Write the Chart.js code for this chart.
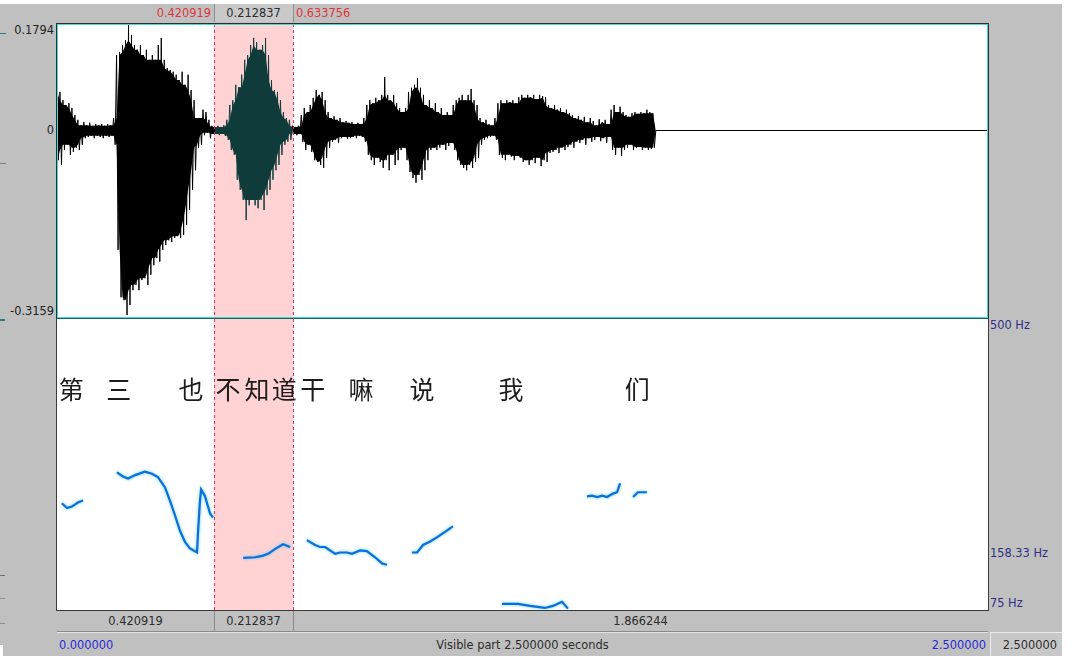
<!DOCTYPE html>
<html>
<head>
  <meta charset="utf-8">
  <title>Sound editor</title>
  <style>
    body { margin: 0; background: #fff; }
    #win { position: relative; width: 1076px; height: 656px; overflow: hidden;
           font-family: "DejaVu Sans", "Liberation Sans", sans-serif; font-size: 11.4px; }
    .blk { position: absolute; }
    .lbl { position: absolute; white-space: nowrap; line-height: 13px; }
    canvas { position: absolute; display: block; left: 0; top: 0; }
  </style>
</head>
<body>
<div id="win">
  <div class="blk" style="left:0;top:4px;width:1062px;height:652px;background:#c0c0c0"></div>
  <!-- left edge remnants of the neighbouring window -->
  <div class="blk" style="left:0;top:33px;width:6px;height:1px;background:#2c7d7d"></div>
  <div class="blk" style="left:0;top:163px;width:6px;height:1px;background:#808080"></div>
  <div class="blk" style="left:0;top:319px;width:5px;height:2px;background:#2c7d7d"></div>
  <div class="blk" style="left:0;top:575px;width:5px;height:1px;background:#707070"></div>
  <div class="blk" style="left:0;top:598px;width:5px;height:1px;background:#909090"></div>
  <div class="blk" style="left:0;top:623px;width:5px;height:1px;background:#909090"></div>
  <div class="blk" style="left:0;top:645px;width:3px;height:11px;background:#fff"></div>

  <div class="blk" id="wavePanel" style="left:56px;top:23px;width:931px;height:294px;border:1px solid #2e2e2e;border-bottom-color:#1f5f5f;background:#fff">
    <canvas id="wave" width="931" height="294"></canvas>
  </div>
  <div class="blk" id="pitchPanel" style="left:56px;top:319px;width:931px;height:291px;border:1px solid #3a3a3a;border-top:none;background:#fff">
    <canvas id="pitch" width="931" height="291"></canvas>
  </div>
</div>

<script src="https://cdn.jsdelivr.net/npm/chart.js"></script>
<script>
  // sound and selection (seconds)
  var duration = 2.5;
  var selStart = 0.420919;
  var selEnd = 0.633756;

  // waveform envelope, one max/min pair every waveStep seconds
  var waveStep = 0.008;
  var waveHi = [
    0.072,0.065,0.051,0.043,0.046,0.038,0.026,0.018,0.009,0.014,
    0.009,0.013,0.008,0.011,0.009,0.011,0.008,0.011,0.009,0.021,
    0.127,0.132,0.144,0.152,0.178,0.161,0.144,0.136,0.144,0.127,
    0.136,0.119,0.127,0.119,0.144,0.156,0.119,0.105,0.102,0.099,
    0.094,0.085,0.099,0.077,0.094,0.068,0.051,0.021,0.021,0.035,
    0.031,0.018,0.008,0.006,0.008,0.006,0.009,0.018,0.043,0.051,
    0.077,0.073,0.094,0.119,0.127,0.144,0.156,0.149,0.136,0.144,
    0.156,0.127,0.085,0.068,0.065,0.051,0.031,0.021,0.018,0.008,
    0.006,0.008,0.026,0.038,0.031,0.043,0.055,0.068,0.060,0.065,
    0.051,0.031,0.021,0.024,0.018,0.021,0.014,0.016,0.013,0.014,
    0.011,0.013,0.011,0.021,0.043,0.051,0.046,0.055,0.051,0.060,
    0.090,0.060,0.051,0.060,0.046,0.038,0.031,0.038,0.065,0.072,
    0.077,0.088,0.072,0.060,0.043,0.051,0.038,0.046,0.031,0.038,
    0.026,0.031,0.026,0.043,0.051,0.055,0.060,0.051,0.060,0.070,
    0.051,0.043,0.021,0.014,0.018,0.011,0.009,0.021,0.046,0.051,
    0.046,0.051,0.048,0.051,0.046,0.056,0.060,0.055,0.060,0.056,
    0.060,0.053,0.060,0.058,0.056,0.043,0.038,0.043,0.035,0.038,
    0.031,0.035,0.029,0.026,0.021,0.024,0.018,0.023,0.014,0.021,
    0.016,0.009,0.019,0.014,0.018,0.011,0.035,0.043,0.031,0.040,
    0.031,0.026,0.023,0.029,0.031,0.028,0.031,0.029,0.035,0.031,0.029
  ];
  var waveLo = [
    -0.050,-0.058,-0.033,-0.024,-0.041,-0.036,-0.029,-0.033,-0.024,-0.013,
    -0.011,-0.009,-0.013,-0.009,-0.011,-0.013,-0.009,-0.011,-0.009,-0.024,
    -0.201,-0.281,-0.286,-0.311,-0.294,-0.269,-0.260,-0.269,-0.252,-0.249,
    -0.260,-0.243,-0.227,-0.215,-0.221,-0.201,-0.193,-0.185,-0.188,-0.181,
    -0.178,-0.181,-0.176,-0.159,-0.134,-0.100,-0.067,-0.029,-0.024,-0.008,
    -0.004,-0.013,-0.006,-0.006,-0.008,-0.006,-0.009,-0.016,-0.033,-0.041,
    -0.083,-0.100,-0.117,-0.151,-0.126,-0.117,-0.126,-0.131,-0.117,-0.134,
    -0.109,-0.100,-0.083,-0.067,-0.058,-0.041,-0.024,-0.019,-0.016,-0.006,
    -0.008,-0.006,-0.019,-0.033,-0.024,-0.036,-0.050,-0.053,-0.058,-0.063,
    -0.046,-0.029,-0.019,-0.016,-0.021,-0.013,-0.011,-0.014,-0.013,-0.011,
    -0.013,-0.009,-0.011,-0.019,-0.041,-0.050,-0.058,-0.046,-0.053,-0.063,
    -0.050,-0.067,-0.041,-0.058,-0.050,-0.033,-0.029,-0.050,-0.070,-0.080,
    -0.088,-0.075,-0.083,-0.067,-0.050,-0.033,-0.029,-0.033,-0.029,-0.024,
    -0.033,-0.026,-0.021,-0.033,-0.050,-0.058,-0.063,-0.067,-0.058,-0.063,
    -0.053,-0.046,-0.024,-0.016,-0.013,-0.011,-0.009,-0.016,-0.041,-0.046,
    -0.050,-0.041,-0.044,-0.050,-0.043,-0.046,-0.053,-0.050,-0.058,-0.050,
    -0.055,-0.046,-0.060,-0.050,-0.053,-0.038,-0.036,-0.033,-0.038,-0.029,
    -0.033,-0.028,-0.024,-0.029,-0.019,-0.021,-0.016,-0.024,-0.013,-0.019,
    -0.016,-0.011,-0.018,-0.013,-0.021,-0.011,-0.033,-0.041,-0.029,-0.043,
    -0.033,-0.029,-0.024,-0.033,-0.029,-0.028,-0.033,-0.029,-0.033,-0.031,-0.029
  ];
  var ampMax = 0.1794;
  var ampMin = -0.3159;

  // pitch track, null marks an unvoiced gap
  var pitchTimes = [
    0.013,0.027,0.040,0.056,0.070, null,
    0.161,0.177,0.191,0.210,0.236,0.255,0.271,0.290,0.303,0.317,0.330,0.344,0.357,0.376,0.379,0.384,0.387,0.397,0.411,0.419, null,
    0.500,0.532,0.551,0.567,0.585,0.607,0.626, null,
    0.671,0.693,0.706,0.720,0.747,0.760,0.779,0.792,0.814,0.832,0.854,0.873,0.886, null,
    0.953,0.967,0.983,1.002,1.020,1.042,1.063, null,
    1.195,1.238,1.270,1.310,1.332,1.356,1.372, null,
    1.423,1.437,1.450,1.464,1.477,1.493,1.504,1.512, null,
    1.547,1.560,1.584
  ];
  var pitchHz = [
    231,224,226,232,235, null,
    276,270,267,272,277,274,269,254,235,213,191,174,165,159,191,235,251,242,216,210, null,
    151,152,154,157,164,171,167, null,
    177,170,167,167,157,159,159,157,162,161,152,143,141, null,
    159,159,170,175,181,189,197, null,
    84,84,81,78,81,87,77, null,
    241,242,240,242,240,245,247,260, null,
    240,247,247
  ];
  var pitchFloor = 75;
  var pitchCeiling = 500;
  var pitchCursor = 158.33;

  // characters typed over the pitch pane
  var wordText = ['第','三','也','不','知','道','干','嘛','说','我','们'];
  var wordTimes = [0.038,0.166,0.360,0.459,0.537,0.610,0.687,0.816,0.980,1.219,1.558];

  var win = document.getElementById('win');

  function label(text, x, y, ax, ay, color) {
    var d = document.createElement('div');
    d.className = 'lbl';
    d.textContent = text;
    d.style.left = x + 'px';
    d.style.top = y + 'px';
    d.style.color = color;
    d.style.transform = 'translate(' + (-ax * 100) + '%,' + (-ay * 100) + '%)';
    win.appendChild(d);
  }
  function box(x, y, w, h, css) {
    var d = document.createElement('div');
    d.className = 'blk';
    d.style.cssText += 'left:' + x + 'px;top:' + y + 'px;width:' + w + 'px;height:' + h + 'px;' + css;
    win.appendChild(d);
  }

  var selectionPlugin = {
    id: 'selection',
    beforeDatasetsDraw: function(chart) {
      var ctx = chart.ctx, a = chart.chartArea, x = chart.scales.x;
      var x0 = x.getPixelForValue(selStart), x1 = x.getPixelForValue(selEnd);
      ctx.save();
      ctx.fillStyle = '#ffd3d3';
      ctx.fillRect(x0, a.top, x1 - x0, a.bottom - a.top);
      ctx.restore();
    },
    afterDatasetsDraw: function(chart) {
      var ctx = chart.ctx, a = chart.chartArea, x = chart.scales.x;
      ctx.save();
      ctx.strokeStyle = '#d2386a';
      ctx.lineWidth = 1;
      ctx.setLineDash([3, 3]);
      [selStart, selEnd].forEach(function(t) {
        var px = Math.round(x.getPixelForValue(t)) + 0.5;
        ctx.beginPath();
        ctx.moveTo(px, a.top);
        ctx.lineTo(px, a.bottom);
        ctx.stroke();
      });
      ctx.restore();
    }
  };

  var waveFrame = {
    id: 'waveFrame',
    afterDraw: function(chart) {
      var ctx = chart.ctx;
      ctx.save();
      ctx.strokeStyle = '#45dada';
      ctx.lineWidth = 1;
      ctx.strokeRect(0.5, 0.5, chart.width - 1, chart.height - 1);
      ctx.restore();
    }
  };

  // soft cyan halo round the pitch curve
  var pitchGlow = {
    id: 'pitchGlow',
    beforeDatasetDraw: function(chart) {
      chart.ctx.save();
      chart.ctx.shadowColor = 'rgba(70,200,255,0.9)';
      chart.ctx.shadowBlur = 3;
    },
    afterDatasetDraw: function(chart) {
      chart.ctx.restore();
    }
  };

  var wordsPlugin = {
    id: 'words',
    afterDatasetsDraw: function(chart) {
      var ctx = chart.ctx, x = chart.scales.x;
      ctx.save();
      ctx.fillStyle = '#1c1c1c';
      ctx.font = '25px "Noto Sans CJK SC"';
      ctx.textAlign = 'center';
      ctx.textBaseline = 'middle';
      wordText.forEach(function(w, i) {
        ctx.fillText(w, x.getPixelForValue(wordTimes[i]), 70);
      });
      ctx.restore();
    }
  };

  var soundEnd = waveHi.length * waveStep;

  // zigzag through max and min of each column: gives the spiky outline
  var zigzag = [];
  waveHi.forEach(function(hi, i) {
    zigzag.push({x: i * waveStep, y: hi});
    zigzag.push({x: i * waveStep + waveStep / 2, y: waveLo[i]});
  });
  zigzag.push({x: soundEnd, y: 0}, {x: duration, y: 0});

  // solid body: the part each column shares with its neighbours
  var coreHi = waveHi.map(function(v, i) {
    return {x: i * waveStep, y: Math.min(v, waveHi[Math.max(i - 1, 0)], waveHi[Math.min(i + 1, waveHi.length - 1)])};
  });
  var coreLo = waveLo.map(function(v, i) {
    return {x: i * waveStep, y: Math.max(v, waveLo[Math.max(i - 1, 0)], waveLo[Math.min(i + 1, waveLo.length - 1)])};
  });
  coreHi.push({x: soundEnd, y: 0});
  coreLo.push({x: soundEnd, y: 0});

  function inSelection(c) {
    return c.p0.parsed.x >= selStart && c.p1.parsed.x <= selEnd;
  }
  var waveColor = function(c) { return inSelection(c) ? '#0f3b3b' : '#000'; };

  var pitchPoints = pitchTimes.map(function(t, i) {
    return {x: t === null ? NaN : t, y: pitchHz[i]};
  });

  function baseOptions(yMin, yMax) {
    return {
      responsive: false,
      animation: false,
      events: [],
      layout: { padding: 0 },
      plugins: { legend: { display: false }, tooltip: { enabled: false } },
      scales: {
        x: { type: 'linear', min: 0, max: duration, display: false },
        y: { min: yMin, max: yMax, display: false }
      }
    };
  }

  var waveChart = new Chart(document.getElementById('wave'), {
    type: 'line',
    data: {
      datasets: [{
        data: coreHi,
        borderWidth: 0,
        borderColor: 'rgba(0,0,0,0)',
        backgroundColor: '#000',
        pointRadius: 0,
        tension: 0,
        fill: '+1',
        segment: { backgroundColor: waveColor }
      }, {
        data: coreLo,
        borderWidth: 0,
        borderColor: 'rgba(0,0,0,0)',
        pointRadius: 0,
        tension: 0,
        fill: false
      }, {
        data: zigzag,
        borderColor: '#000',
        borderWidth: 1,
        pointRadius: 0,
        tension: 0,
        fill: false,
        segment: { borderColor: waveColor }
      }]
    },
    options: baseOptions(ampMin, ampMax),
    plugins: [selectionPlugin, waveFrame]
  });

  var pitchChart = new Chart(document.getElementById('pitch'), {
    type: 'line',
    data: {
      datasets: [{
        data: pitchPoints,
        borderColor: '#0c6fd8',
        borderWidth: 2.2,
        pointRadius: 0,
        tension: 0,
        spanGaps: false
      }]
    },
    options: baseOptions(pitchFloor, pitchCeiling),
    plugins: [selectionPlugin, pitchGlow, wordsPlugin]
  });

  // window chrome placed from the chart scales
  var left = 57, right = 988;
  var wy = waveChart.scales.y, py = pitchChart.scales.y, tx = waveChart.scales.x;
  var s0 = left + Math.round(tx.getPixelForValue(selStart));
  var s1 = left + Math.round(tx.getPixelForValue(selEnd));
  function fmt(v) { return v.toFixed(6); }

  // top bar
  box(s0, 4, s1 - s0 - 1, 18, 'background:#c9c9c9;border-left:1px solid #8e8e8e;border-right:1px solid #8e8e8e');
  label(fmt(selStart), s0 - 3, 13, 1, 0.5, '#e0353c');
  label(fmt(selEnd - selStart), (s0 + s1) / 2, 13, 0.5, 0.5, '#2c2c2c');
  label(fmt(selEnd), s1 + 3, 13, 0, 0.5, '#e0353c');

  // amplitude labels
  label(String(ampMax), 54, 24 + wy.getPixelForValue(ampMax), 1, 0, '#222');
  label('0', 54, 24 + wy.getPixelForValue(0), 1, 0.5, '#222');
  label(String(ampMin), 54, 24 + wy.getPixelForValue(ampMin), 1, 1, '#222');

  // pitch labels
  label(pitchCeiling + ' Hz', 990, 319 + py.getPixelForValue(pitchCeiling), 0, 0, '#2e2e86');
  label(pitchCursor + ' Hz', 990, 319 + py.getPixelForValue(pitchCursor), 0, 0.5, '#2e2e86');
  label(pitchFloor + ' Hz', 990, 319 + py.getPixelForValue(pitchFloor), 0, 1, '#2e2e86');

  // selection bar under the panes
  box(left, 611, right - left, 20, 'border-bottom:1px solid #8a8a8a');
  box(s0, 611, 1, 20, 'background:#8a8a8a');
  box(s1, 611, 1, 20, 'background:#8a8a8a');
  label(fmt(selStart), (left + s0) / 2, 621, 0.5, 0.5, '#2c2c2c');
  label(fmt(selEnd - selStart), (s0 + s1) / 2, 621, 0.5, 0.5, '#2c2c2c');
  label(fmt(duration - selEnd), (s1 + right) / 2, 621, 0.5, 0.5, '#2c2c2c');

  // visible-part bar
  box(left, 632, right - left, 24, 'border-top:1px solid #e4e4e4');
  label(fmt(0), 59, 645, 0, 0.5, '#2828d6');
  label('Visible part ' + fmt(duration) + ' seconds', (left + right) / 2, 645, 0.5, 0.5, '#2c2c2c');
  label(fmt(duration), right - 2, 645, 1, 0.5, '#2828d6');
  box(990, 632, 71, 24, 'background:#c8c8c8;border-top:1px solid #ececec;border-left:1px solid #ececec');
  label(fmt(duration), 1057, 645, 1, 0.5, '#2c2c2c');
</script>
</body>
</html>
